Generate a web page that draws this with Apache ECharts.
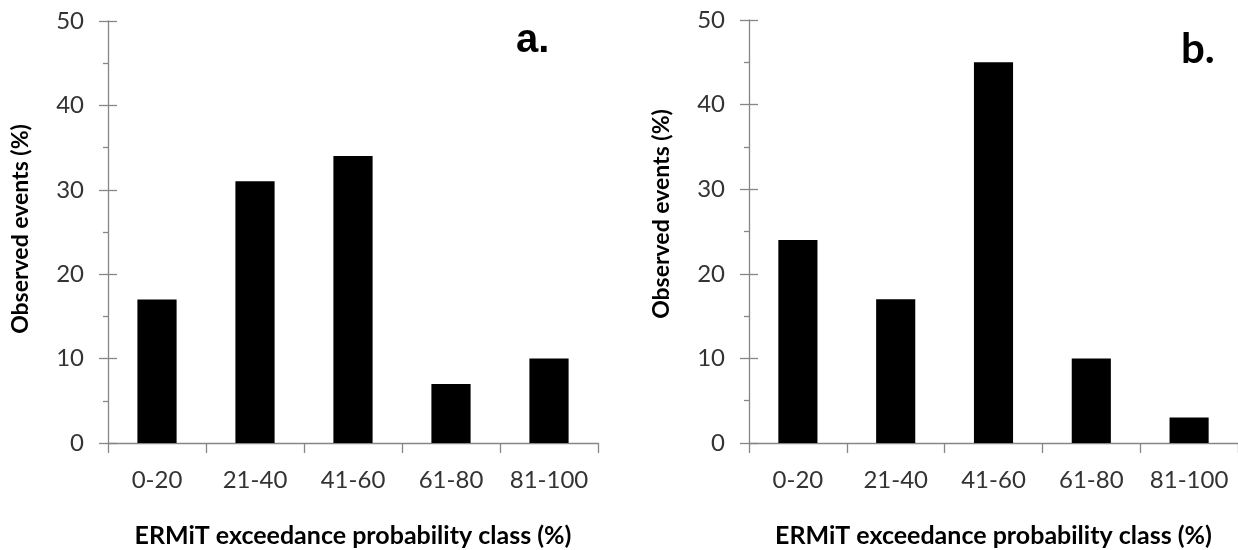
<!DOCTYPE html>
<html>
<head>
<meta charset="utf-8">
<script src="https://cdn.jsdelivr.net/npm/echarts@6/dist/echarts.min.js"></script>
<style>
  html, body { margin: 0; padding: 0; background: #ffffff; }
  #chart { width: 1238px; height: 550px; }
</style>
</head>
<body>
<div id="chart"></div>
<script>
// Exceedance probability classes shared by both panels
const categories = ['0-20', '21-40', '41-60', '61-80', '81-100'];
// Observed events (%) per class
const panelA = [17, 31, 34, 7, 10];
const panelB = [24, 17, 45, 10, 3];
const yTicks = [0, 10, 20, 30, 40, 50];

const xTitle = 'ERMiT exceedance probability class (%)';
const yTitle = 'Observed events (%)';

const AXIS_GREY = '#868686';
const LABEL_GREY = '#333333';
const FONT = 'Lato, "Open Sans", sans-serif';

// fixed plot rectangles; labels are allowed to sit outside them
const grids = [
  { left: 108, top: 21, width: 490, height: 422, containLabel: false, outerBoundsMode: 'none' },
  { left: 749, top: 20, width: 489, height: 423, containLabel: false, outerBoundsMode: 'none' }
];

function xAxisFor(gridIndex) {
  return {
    type: 'category',
    gridIndex,
    data: categories,
    boundaryGap: true,
    axisLine: { show: true, lineStyle: { color: AXIS_GREY, width: 1.3 } },
    axisTick: { show: true, interval: 0, length: 10, lineStyle: { color: AXIS_GREY, width: 1.3 } },
    axisLabel: { interval: 0, margin: 25, color: LABEL_GREY, fontFamily: FONT, fontSize: 24 },
    name: xTitle,
    nameLocation: 'middle',
    nameGap: 80,
    nameTextStyle: { color: '#000', fontFamily: FONT, fontWeight: 'bold', fontSize: 25 }
  };
}

function yAxisFor(gridIndex) {
  const yMin = yTicks[0], yMax = yTicks[yTicks.length - 1];
  const step = yTicks[1] - yTicks[0];
  return [
    {
      type: 'value',
      gridIndex,
      min: yMin, max: yMax, interval: step,
      axisLine: { show: true, lineStyle: { color: AXIS_GREY, width: 1.3 } },
      axisTick: { show: true, length: 9, lineStyle: { color: AXIS_GREY, width: 1.3 } },
      minorTick: { show: true, splitNumber: 2, length: 5, lineStyle: { color: AXIS_GREY, width: 1.3 } },
      splitLine: { show: false },
      axisLabel: { margin: 24, color: LABEL_GREY, fontFamily: FONT, fontSize: 24 }
    },
    {
      // inner half of the crossing major ticks
      type: 'value',
      gridIndex,
      position: 'left',
      min: yMin, max: yMax, interval: step,
      axisLine: { show: false },
      axisTick: { show: true, inside: true, length: 9, lineStyle: { color: AXIS_GREY, width: 1.3 } },
      axisLabel: { show: false },
      splitLine: { show: false }
    }
  ];
}

const chart = echarts.init(document.getElementById('chart'), null, { renderer: 'canvas' });

chart.setOption({
  animation: false,
  backgroundColor: '#ffffff',
  grid: grids,
  xAxis: [xAxisFor(0), xAxisFor(1)],
  yAxis: [...yAxisFor(0), ...yAxisFor(1)],
  series: [
    {
      type: 'bar', xAxisIndex: 0, yAxisIndex: 0, data: panelA,
      barCategoryGap: '60%', itemStyle: { color: '#000000' }
    },
    {
      type: 'bar', xAxisIndex: 1, yAxisIndex: 2, data: panelB,
      barCategoryGap: '60%', itemStyle: { color: '#000000' }
    }
  ],
  graphic: [
    {
      type: 'text', x: 21, y: 229, rotation: Math.PI / 2,
      style: { text: yTitle, fontFamily: FONT, fontWeight: 'bold', fontSize: 23, fill: '#000', align: 'center', verticalAlign: 'middle' }
    },
    {
      type: 'text', x: 662, y: 214, rotation: Math.PI / 2,
      style: { text: yTitle, fontFamily: FONT, fontWeight: 'bold', fontSize: 23, fill: '#000', align: 'center', verticalAlign: 'middle' }
    },
    {
      type: 'text', x: 516, y: 41,
      style: { text: 'a.', fontFamily: '"Liberation Sans", Arial, sans-serif', fontWeight: 'bold', fontSize: 40, fill: '#000', align: 'left', verticalAlign: 'middle' }
    },
    {
      type: 'text', x: 1181, y: 49,
      style: { text: 'b.', fontFamily: FONT, fontWeight: 'bold', fontSize: 42, fill: '#000', align: 'left', verticalAlign: 'middle' }
    }
  ]
});
</script>
</body>
</html>
